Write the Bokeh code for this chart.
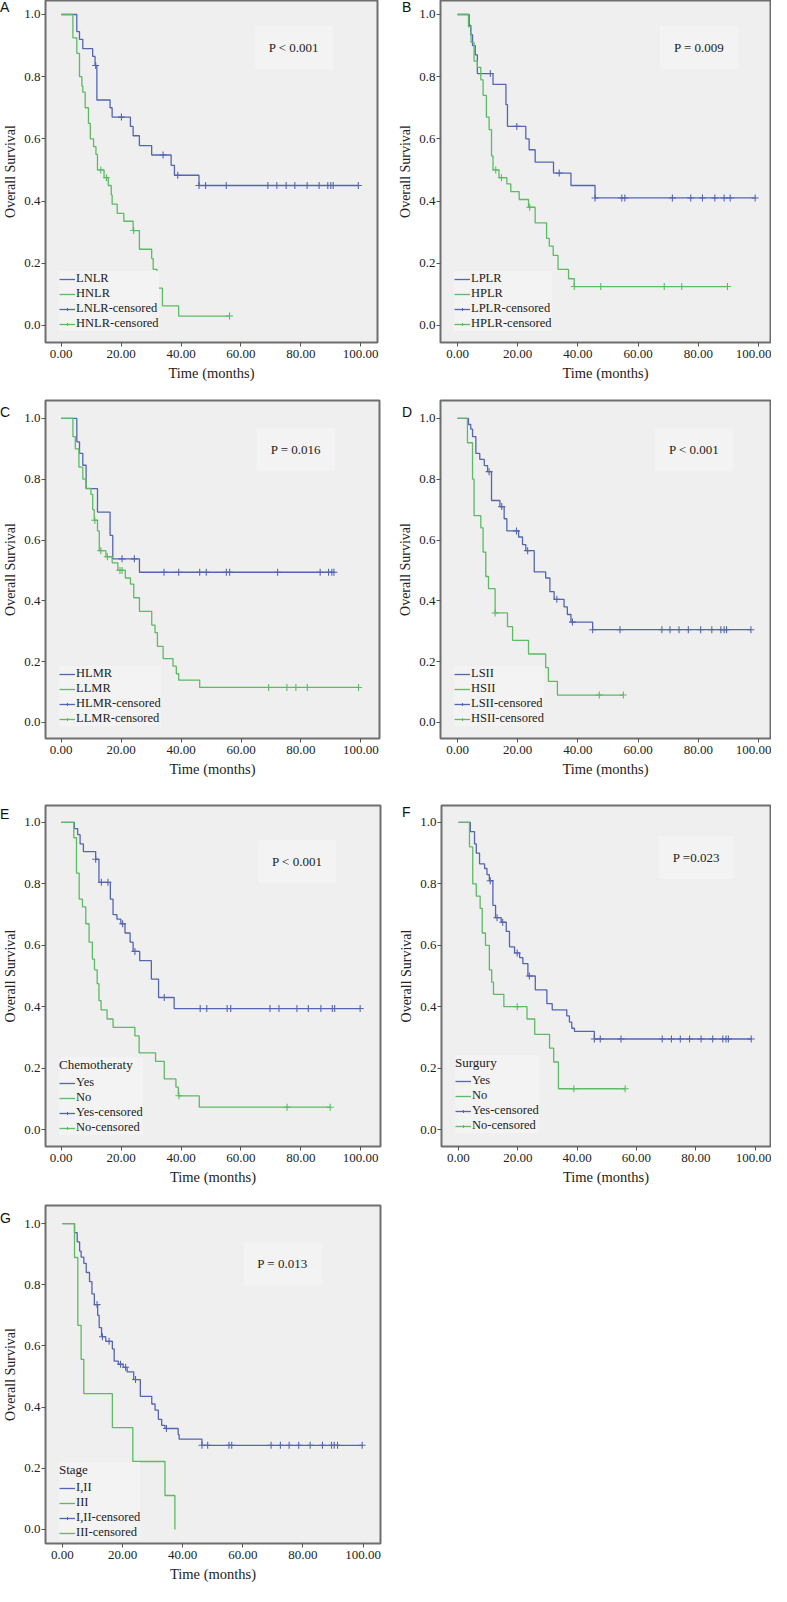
from bisect import bisect_right
from bokeh.plotting import figure
from bokeh.layouts import column, row
from bokeh.models import Legend, LegendItem, Label, Div, FixedTicker, PrintfTickFormatter
from bokeh.embed import file_html
from bokeh.resources import INLINE

# ---------------- data (Kaplan-Meier steps) ----------------
# Panel A
A_groups = ["LNLR", "HNLR"]
A_blue_t = [5.2, 6.1, 7.2, 10.5, 11.3, 11.9, 16.3, 17.0, 23.1, 24.0, 26.1, 30.2, 36.7, 37.8, 46.0]
A_blue_s = [0.945, 0.92, 0.89, 0.865, 0.836, 0.725, 0.70, 0.67, 0.64, 0.61, 0.578, 0.548, 0.515, 0.483, 0.45]
A_blue_c = [11.5, 20.1, 34.0, 38.9, 46.0, 48.2, 55.1, 69.0, 72.0, 75.1, 78.0, 82.1, 86.1, 89.0, 90.0, 90.8, 99.2]
A_green_t = [3.9, 5.2, 6.1, 6.9, 7.2, 8.0, 9.1, 9.7, 10.8, 11.6, 12.1, 14.3, 15.7, 16.7, 17.0, 18.7, 20.9,
             24.0, 26.1, 30.2, 30.7, 32.0, 33.8, 39.2]
A_green_s = [0.925, 0.875, 0.80, 0.77, 0.75, 0.70, 0.65, 0.60, 0.575, 0.55, 0.50, 0.475, 0.45, 0.42, 0.39,
             0.36, 0.335, 0.305, 0.245, 0.215, 0.18, 0.12, 0.063, 0.03]
A_green_c = [13.2, 15.1, 24.2, 56.2]
A_p = "P < 0.001"

# Panel B
B_groups = ["LPLR", "HPLR"]
B_blue_t = [3.9, 4.4, 5.0, 5.9, 6.6, 11.8, 16.1, 16.6, 22.7, 23.8, 25.8, 31.9, 37.7, 45.7]
B_blue_s = [0.965, 0.935, 0.90, 0.87, 0.81, 0.775, 0.71, 0.64, 0.60, 0.565, 0.525, 0.49, 0.45, 0.41]
B_blue_c = [10.9, 19.7, 33.8, 45.7, 54.6, 55.6, 71.4, 77.5, 81.4, 85.5, 88.6, 90.6, 98.9]
B_green_t = [3.65, 4.5, 5.5, 6.6, 7.75, 8.5, 9.6, 10.5, 11.3, 11.8, 13.8, 16.4, 17.7, 20.5, 23.6, 25.8,
             29.6, 30.5, 31.8, 33.4, 36.9, 38.8]
B_green_s = [0.96, 0.91, 0.85, 0.83, 0.79, 0.74, 0.67, 0.63, 0.545, 0.50, 0.475, 0.455, 0.43, 0.405, 0.38,
             0.33, 0.28, 0.255, 0.225, 0.18, 0.15, 0.125]
B_green_c = [12.7, 14.6, 24.0, 38.8, 47.6, 68.7, 74.5, 89.7]
B_p = "P = 0.009"

# Panel C
C_groups = ["HLMR", "LLMR"]
C_blue_t = [5.2, 6.1, 7.2, 8.3, 12.1, 16.3, 17.2, 26.1]
C_blue_s = [0.923, 0.885, 0.846, 0.769, 0.692, 0.615, 0.538, 0.494]
C_blue_c = [20.3, 24.4, 34.3, 39.2, 46.2, 48.4, 55.1, 56.2, 72.2, 86.4, 89.2, 90.3, 91.0]
C_green_t = [3.9, 4.7, 5.9, 7.2, 8.3, 9.9, 10.5, 11.0, 12.1, 12.7, 14.9, 17.0, 18.9, 21.4, 23.1, 24.2,
             26.1, 30.2, 31.3, 32.1, 34.0, 37.3, 38.4, 39.2, 46.2]
C_green_s = [0.94, 0.90, 0.84, 0.80, 0.77, 0.75, 0.70, 0.665, 0.63, 0.565, 0.545, 0.525, 0.50, 0.475,
             0.455, 0.41, 0.365, 0.32, 0.295, 0.25, 0.21, 0.185, 0.16, 0.139, 0.115]
C_green_c = [11.2, 13.2, 15.4, 19.6, 20.3, 69.2, 75.3, 78.3, 82.1, 99.2]
C_p = "P = 0.016"

# Panel D
D_groups = ["LSII", "HSII"]
D_blue_t = [3.65, 4.4, 5.0, 6.1, 7.4, 8.9, 10.0, 11.3, 14.1, 15.5, 16.4, 20.3, 21.6, 22.7, 25.5, 29.3,
            30.7, 32.1, 35.4, 36.5, 37.7, 44.9]
D_blue_s = [0.98, 0.965, 0.94, 0.885, 0.865, 0.845, 0.825, 0.73, 0.71, 0.67, 0.63, 0.61, 0.585, 0.565,
            0.495, 0.475, 0.43, 0.405, 0.38, 0.355, 0.33, 0.305]
D_blue_c = [10.5, 14.7, 19.6, 23.3, 33.0, 38.2, 44.9, 54.0, 67.9, 70.6, 73.6, 76.7, 80.8, 84.5, 87.5,
            88.6, 89.4, 97.5]
D_green_t = [3.3, 5.0, 5.5, 7.75, 8.5, 9.4, 10.3, 12.5, 16.6, 18.3, 23.6, 29.3, 30.2, 33.2]
D_green_s = [0.92, 0.80, 0.68, 0.64, 0.56, 0.48, 0.44, 0.36, 0.315, 0.27, 0.225, 0.18, 0.135, 0.09]
D_green_c = [12.5, 47.1, 55.1]
D_p = "P < 0.001"

# Panel E
E_title = "Chemotheraty"
E_groups = ["Yes", "No"]
E_blue_t = [4.4, 5.5, 6.3, 7.4, 11.5, 12.6, 16.4, 17.3, 18.6, 19.9, 21.3, 23.0, 24.0, 26.2, 30.1, 32.5, 37.7]
E_blue_s = [0.98, 0.96, 0.93, 0.905, 0.88, 0.805, 0.75, 0.70, 0.685, 0.67, 0.64, 0.61, 0.58, 0.55, 0.49,
            0.43, 0.394]
E_blue_c = [11.5, 13.4, 15.6, 20.5, 24.6, 34.4, 46.4, 48.6, 55.4, 56.6, 69.7, 72.7, 78.7, 82.5, 86.7,
            90.5, 91.3, 99.8]
E_green_t = [4.2, 5.1, 6.0, 7.1, 8.2, 9.3, 10.4, 11.1, 12.0, 12.6, 13.3, 15.3, 17.3, 24.6, 26.0, 31.5,
             34.4, 38.3, 39.1, 46.1]
E_green_s = [0.95, 0.835, 0.75, 0.725, 0.67, 0.61, 0.555, 0.52, 0.475, 0.42, 0.39, 0.36, 0.333, 0.305,
             0.25, 0.222, 0.165, 0.138, 0.11, 0.073]
E_green_c = [39.3, 75.4, 89.8]
E_p = "P < 0.001"

# Panel F
F_title = "Surgury"
F_groups = ["Yes", "No"]
F_blue_t = [4.0, 5.4, 6.0, 7.1, 8.8, 9.6, 10.4, 11.6, 12.5, 14.4, 16.1, 17.2, 18.9, 20.6, 21.7, 23.4,
            25.9, 29.8, 31.6, 36.5, 37.4, 38.2, 39.1, 45.8]
F_blue_s = [0.97, 0.93, 0.90, 0.865, 0.85, 0.83, 0.81, 0.73, 0.69, 0.675, 0.645, 0.595, 0.575, 0.56,
            0.54, 0.50, 0.455, 0.41, 0.39, 0.37, 0.35, 0.33, 0.32, 0.295]
F_blue_c = [10.7, 13.0, 14.9, 19.8, 23.9, 45.8, 47.8, 54.8, 68.7, 71.8, 74.8, 77.9, 81.8, 85.7, 89.1,
            90.2, 91.0, 98.7]
F_green_t = [3.7, 4.8, 6.0, 7.3, 8.0, 9.1, 10.4, 11.2, 11.8, 15.3, 23.1, 25.7, 30.7, 32.1, 33.7]
F_green_s = [0.92, 0.80, 0.76, 0.72, 0.64, 0.60, 0.52, 0.48, 0.44, 0.40, 0.36, 0.31, 0.265, 0.22, 0.133]
F_green_c = [19.8, 38.9, 56.2]
F_p = "P =0.023"

# Panel G
G_title = "Stage"
G_groups = ["I,II", "III"]
G_blue_t = [4.0, 4.9, 5.7, 6.2, 7.1, 7.9, 9.0, 9.8, 10.6, 11.7, 12.2, 13.0, 14.4, 16.6, 17.2, 18.6, 20.2,
            21.5, 23.7, 25.9, 29.7, 30.8, 31.9, 33.0, 34.1, 38.5, 38.8, 46.4]
G_blue_s = [0.97, 0.94, 0.91, 0.89, 0.87, 0.84, 0.81, 0.77, 0.735, 0.70, 0.66, 0.63, 0.615, 0.59, 0.55,
            0.54, 0.53, 0.515, 0.49, 0.435, 0.41, 0.39, 0.36, 0.34, 0.33, 0.31, 0.295, 0.275]
G_blue_c = [11.5, 13.3, 15.5, 19.3, 21.0, 24.3, 34.6, 46.4, 48.3, 55.4, 56.3, 69.4, 72.5, 75.4, 78.6,
            82.4, 86.5, 89.5, 90.4, 91.5, 99.7]
G_green_t = [4.0, 5.1, 6.2, 7.1, 16.6, 23.4, 34.1, 37.4]
G_green_s = [0.889, 0.667, 0.556, 0.444, 0.333, 0.222, 0.111, 0.0]
G_green_c = []
G_p = "P = 0.013"

panel_letters = ["A", "B", "C", "D", "E", "F", "G"]
x_ticks = [0, 20, 40, 60, 80, 100]
y_ticks = [0.0, 0.2, 0.4, 0.6, 0.8, 1.0]

# ---------------- styling / layout ----------------
BLUE = "#5565b2"
GREEN = "#5cbb64"
SERIF = "Liberation Serif"

GEOM = {
    "A": dict(w=384, h=390, bl=39, br=7, bt=0, bb=48, xr=(-5.25, 105.6), yr=(-0.055, 1.045), pp=(77.7, 0.894), ll=(14, 11)),
    "B": dict(w=387, h=390, bl=56, br=1, bt=0, bb=48, xr=(-5.65, 104.0), yr=(-0.055, 1.045), pp=(80.3, 0.894), ll=(14, 11)),
    "C": dict(w=384, h=402, bl=39, br=5, bt=10, bb=54, xr=(-5.25, 106.2), yr=(-0.053, 1.059), pp=(78.3, 0.897), ll=(14, 12)),
    "D": dict(w=387, h=402, bl=56, br=1, bt=10, bb=54, xr=(-5.65, 104.0), yr=(-0.053, 1.059), pp=(78.6, 0.897), ll=(14, 12)),
    "E": dict(w=384, h=400, bl=39, br=4, bt=13, bb=46, xr=(-5.25, 106.6), yr=(-0.055, 1.055), pp=(78.8, 0.872), ll=(14, 11)),
    "F": dict(w=387, h=400, bl=57, br=1, bt=11, bb=46, xr=(-5.73, 105.2), yr=(-0.055, 1.055), pp=(80.2, 0.886), ll=(14, 13)),
    "G": dict(w=384, h=394, bl=39, br=4, bt=13, bb=43, xr=(-5.65, 105.8), yr=(-0.046, 1.059), pp=(73.2, 0.868), ll=(14, 3)),
}
# panel-letter positions (px, relative to the layout's top-left corner)
LETTER_POS = {"A": (-5, -5), "B": (397, -5), "C": (-5, 400), "D": (397, 400),
              "E": (-5, 802), "F": (397, 800), "G": (-5, 1206)}


def step_xy(t, s, cens):
    end = max([t[-1]] + list(cens))
    return [0.0] + list(t) + [end], [1.0] + list(s) + [s[-1]]


def cens_y(t, s, cens):
    out = []
    for c in cens:
        i = bisect_right(t, c)
        out.append(1.0 if i == 0 else s[i - 1])
    return out


def panel(letter, groups, bt, bs, bc, gt, gs, gc, ptext, legend_title=None):
    g = GEOM[letter]
    p = figure(width=g["w"], height=g["h"], x_range=g["xr"], y_range=g["yr"],
               output_backend="svg", toolbar_location=None,
               min_border_left=g["bl"], min_border_right=g["br"],
               min_border_top=g["bt"], min_border_bottom=g["bb"],
               background_fill_color="#efefef", border_fill_color="white",
               outline_line_color="#6e6e6e", outline_line_width=2)
    p.xgrid.visible = False
    p.ygrid.visible = False

    for ax in (p.xaxis, p.yaxis):
        ax.axis_line_color = None
        ax.major_tick_line_color = "#555555"
        ax.major_tick_out = 4
        ax.major_tick_in = 0
        ax.minor_tick_line_color = None
        ax.major_label_text_font = SERIF
        ax.major_label_text_font_size = "13px"
        ax.major_label_text_color = "#222222"
        ax.axis_label_text_font = SERIF
        ax.axis_label_text_font_style = "normal"
        ax.axis_label_text_color = "#222222"
    p.xaxis.ticker = FixedTicker(ticks=x_ticks)
    p.yaxis.ticker = FixedTicker(ticks=y_ticks)
    p.xaxis.formatter = PrintfTickFormatter(format="%.2f")
    p.yaxis.formatter = PrintfTickFormatter(format="%.1f")
    p.xaxis.axis_label = "Time (months)"
    p.yaxis.axis_label = "Overall Survival"
    p.xaxis.axis_label_text_font_size = "14.5px"
    p.yaxis.axis_label_text_font_size = "14px"
    p.xaxis.major_label_standoff = 3
    p.yaxis.major_label_standoff = 1
    p.xaxis.axis_label_standoff = 4
    p.yaxis.axis_label_standoff = 3

    bx, by = step_xy(bt, bs, bc)
    gx, gy = step_xy(gt, gs, gc)
    rb = p.step(bx, by, mode="after", line_color=BLUE, line_width=1.3)
    rg = p.step(gx, gy, mode="after", line_color=GREEN, line_width=1.3)
    rbc = p.scatter(bc, cens_y(bt, bs, bc), marker="cross", size=7, line_color=BLUE, line_width=1.1)
    rgc = p.scatter(gc, cens_y(gt, gs, gc), marker="cross", size=7, line_color=GREEN, line_width=1.1)

    items = [
        LegendItem(label=groups[0], renderers=[rb]),
        LegendItem(label=groups[1], renderers=[rg]),
        LegendItem(label=groups[0] + "-censored", renderers=[rb, rbc]),
        LegendItem(label=groups[1] + "-censored", renderers=[rg, rgc]),
    ]
    leg = Legend(items=items, location=g["ll"], orientation="vertical",
                 label_text_font=SERIF, label_text_font_size="12.5px", label_text_color="#222222",
                 glyph_width=16, glyph_height=8, label_height=8, label_standoff=1,
                 spacing=0, padding=3, margin=0,
                 background_fill_color="#f3f3f3", background_fill_alpha=1.0,
                 border_line_color=None)
    if legend_title:
        leg.title = legend_title
        leg.title_text_font = SERIF
        leg.title_text_font_style = "normal"
        leg.title_text_font_size = "13px"
        leg.title_text_color = "#222222"
        leg.title_standoff = 2
    p.add_layout(leg)

    p.add_layout(Label(x=g["pp"][0], y=g["pp"][1], text=ptext, text_align="center",
                       text_baseline="middle", text_font=SERIF, text_font_size="13px",
                       text_color="#222222", background_fill_color="#f3f3f3",
                       background_fill_alpha=1.0, padding=14))
    return p


pA = panel("A", A_groups, A_blue_t, A_blue_s, A_blue_c, A_green_t, A_green_s, A_green_c, A_p)
pB = panel("B", B_groups, B_blue_t, B_blue_s, B_blue_c, B_green_t, B_green_s, B_green_c, B_p)
pC = panel("C", C_groups, C_blue_t, C_blue_s, C_blue_c, C_green_t, C_green_s, C_green_c, C_p)
pD = panel("D", D_groups, D_blue_t, D_blue_s, D_blue_c, D_green_t, D_green_s, D_green_c, D_p)
pE = panel("E", E_groups, E_blue_t, E_blue_s, E_blue_c, E_green_t, E_green_s, E_green_c, E_p, E_title)
pF = panel("F", F_groups, F_blue_t, F_blue_s, F_blue_c, F_green_t, F_green_s, F_green_c, F_p, F_title)
pG = panel("G", G_groups, G_blue_t, G_blue_s, G_blue_c, G_green_t, G_green_s, G_green_c, G_p, G_title)

# panel letters, overlaid on the layout
spans = "".join(
    '<span style="position:absolute;left:%dpx;top:%dpx;font-family:\'Liberation Sans\',sans-serif;'
    'font-size:14px;line-height:14px;color:#111111;white-space:nowrap;">%s</span>'
    % (LETTER_POS[t][0], LETTER_POS[t][1], t)
    for t in panel_letters)
letters = Div(text=spans, width=1, height=1,
              styles={"position": "absolute", "left": "0px", "top": "0px",
                      "z-index": "10", "overflow": "visible"})

layout = column(letters, row(pA, pB), row(pC, pD), row(pE, pF), row(pG))
open("out.html", "w").write(file_html(layout, INLINE))
